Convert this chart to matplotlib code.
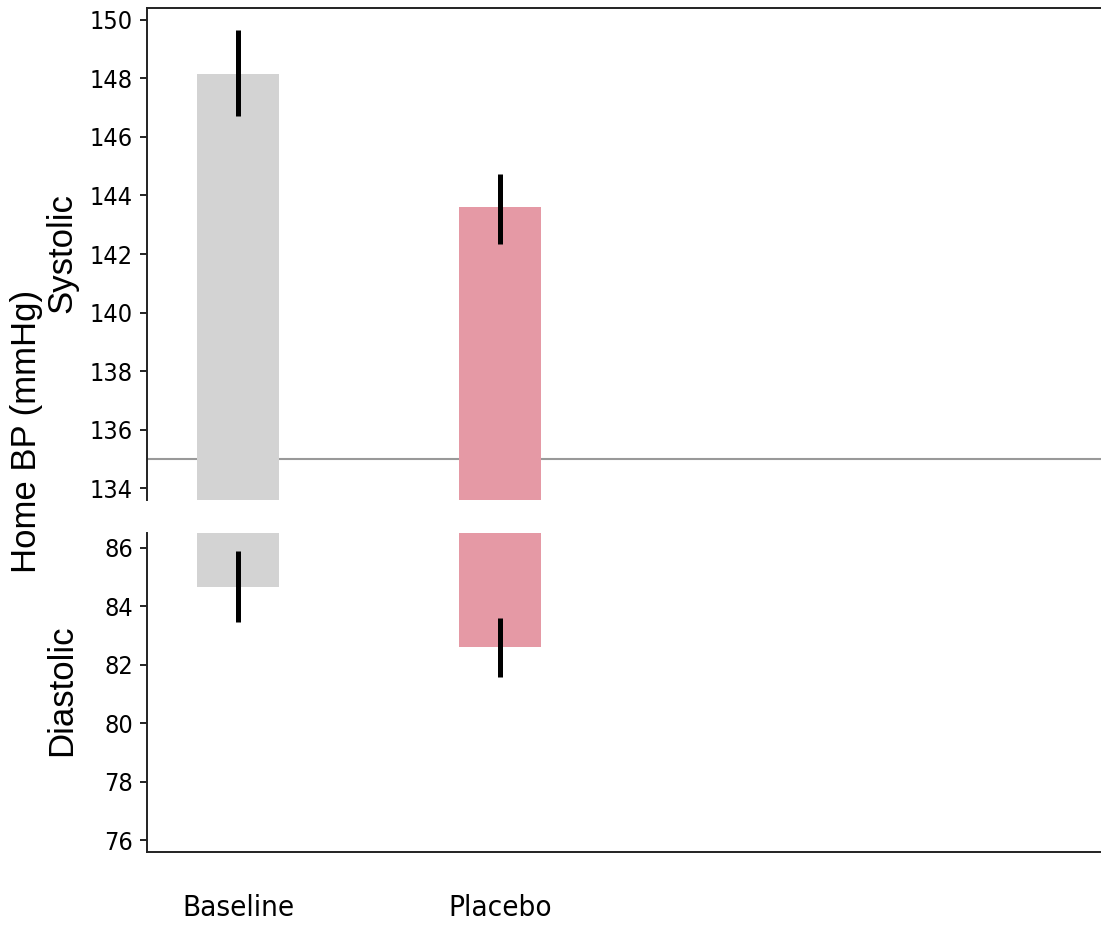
import matplotlib
matplotlib.use("Agg")
import matplotlib.pyplot as plt
from matplotlib import font_manager
from matplotlib.font_manager import FontProperties

# ---- data ----
categories = ["Baseline", "Placebo"]
colors = ["#d3d3d3", "#e599a5"]
sys_mean = [148.15, 143.6]
sys_low = [146.7, 142.35]
sys_high = [149.65, 144.72]
dia_mean = [84.65, 82.6]
dia_low = [83.45, 81.58]
dia_high = [85.9, 83.6]
sys_ticks = [134, 136, 138, 140, 142, 144, 146, 148, 150]
dia_ticks = [76, 78, 80, 82, 84, 86]
reference_sys = 135

# ---- pick a narrow font if one exists ----
def find_narrow():
    best = None
    for f in font_manager.fontManager.ttflist:
        nm = f.name + " " + f.fname
        if f.style != "normal" or f.weight not in (400, "normal", "regular"):
            continue
        if "Bold" in f.fname or "Italic" in f.fname or "Oblique" in f.fname:
            continue
        if "Narrow" in nm or "Condensed" in nm or f.stretch in ("condensed", "semi-condensed"):
            score = 0 if "Liberation" in nm else 1
            if best is None or score < best[0]:
                best = (score, f.fname)
    return best[1] if best else None

narrow_path = find_narrow()
if narrow_path:
    narrow_fp = FontProperties(fname=narrow_path)
else:
    narrow_fp = FontProperties(family="Liberation Sans")
regular = "Liberation Sans"

W, H = 1101, 927
fig = plt.figure(figsize=(W / 100, H / 100), dpi=100)
renderer = fig.canvas.get_renderer()

def fit_size(text, target_px, start=20.0):
    fp = narrow_fp.copy()
    fp.set_size(start)
    t = fig.text(0, 0, text, fontproperties=fp)
    w = t.get_window_extent(renderer).width
    t.remove()
    return start * target_px / w

tick_size = min(fit_size("150", 43), 21)
cat_size = min(fit_size("Baseline", 112), 25)

x = list(range(len(categories)))
xlim = (-0.347, 3.67)
bw = 0.313

def frac(px_left, px_top, px_right, px_bottom):
    return [px_left / W, 1 - px_bottom / H, (px_right - px_left) / W, (px_bottom - px_top) / H]

ax1 = fig.add_axes(frac(147, 8, 1200, 500))
ax2 = fig.add_axes(frac(147, 533, 1200, 852))

sys_lim = (133.6, 150.4)
dia_lim = (75.6, 86.5)

ax1.axhline(reference_sys, color="#999999", lw=1.5, zorder=0)
ax1.bar(x, [m - sys_lim[0] for m in sys_mean], bottom=sys_lim[0], width=bw, color=colors, zorder=1)
ax1.vlines(x, sys_low, sys_high, color="black", lw=3.6, zorder=2)
ax1.set_ylim(*sys_lim)
ax1.set_xlim(*xlim)
ax1.set_yticks(sys_ticks)
ax1.set_xticks([])
for s in ["bottom", "right"]:
    ax1.spines[s].set_visible(False)

ax2.bar(x, [m - dia_lim[1] for m in dia_mean], bottom=dia_lim[1], width=bw, color=colors, zorder=1)
ax2.vlines(x, dia_low, dia_high, color="black", lw=3.6, zorder=2)
ax2.set_ylim(*dia_lim)
ax2.set_xlim(*xlim)
ax2.set_yticks(dia_ticks)
ax2.set_xticks(x)
ax2.set_xticklabels(categories)
ax2.tick_params(axis="x", length=0, pad=30)
for lab in ax2.get_xticklabels():
    fp = narrow_fp.copy()
    fp.set_size(cat_size)
    lab.set_fontproperties(fp)
for s in ["top", "right"]:
    ax2.spines[s].set_visible(False)

for ax in (ax1, ax2):
    for s in ax.spines.values():
        s.set_linewidth(1.4)
        s.set_color("#222222")
    ax.tick_params(axis="y", length=5, width=1.4, color="#222222", pad=5)
    for lab in ax.get_yticklabels():
        fp = narrow_fp.copy()
        fp.set_size(tick_size)
        lab.set_fontproperties(fp)

fig.text(62 / W, 1 - 253 / H, "Systolic", rotation=90, ha="center", va="center",
         fontfamily=regular, fontsize=25)
fig.text(62 / W, 1 - 690 / H, "Diastolic", rotation=90, ha="center", va="center",
         fontfamily=regular, fontsize=25)
fig.text(27 / W, 1 - 431 / H, "Home BP (mmHg)", rotation=90, ha="center", va="center",
         fontfamily=regular, fontsize=25)

fig.savefig("out.png", dpi=100)
